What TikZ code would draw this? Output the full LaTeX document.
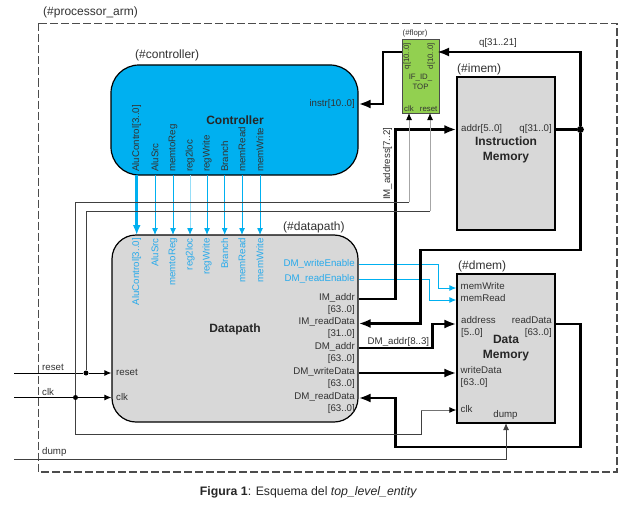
\documentclass[tikz,border=0pt]{standalone}
\usepackage{fontspec}
\setmainfont{Liberation Sans}
\usetikzlibrary{arrows.meta}
\definecolor{cblue}{RGB}{0,176,240}
\definecolor{lblue}{RGB}{150,222,248}
\definecolor{txtblue}{RGB}{40,170,235}
\definecolor{gfill}{RGB}{216,216,216}
\definecolor{ffgreen}{RGB}{146,208,80}
\definecolor{dtext}{RGB}{50,50,50}
\tikzset{
  block/.style={draw=black,line width=1.2pt,fill=gfill,inner sep=0pt,minimum width=#1},
  lab/.style={font=\fontsize{9.7}{12}\selectfont,text=dtext,inner sep=0pt,align=left},
  labr/.style={font=\fontsize{9.7}{12}\selectfont,text=dtext,inner sep=0pt,align=right},
  tag/.style={font=\fontsize{12}{14}\selectfont,text=dtext,inner sep=0pt,anchor=base west},
  title/.style={font=\bfseries\fontsize{12}{15}\selectfont,text=black!85,inner sep=0pt,align=center},
  smallf/.style={font=\fontsize{7.8}{10}\selectfont},
  vert/.style={font=\fontsize{9.7}{12}\selectfont,text=black!80,inner sep=0pt,rotate=90},
  vertb/.style={font=\fontsize{9.7}{12}\selectfont,text=txtblue,inner sep=0pt,rotate=90,anchor=east},
  bus/.style={line width=2.8pt,-{Latex[length=12pt,width=9pt]},line join=miter},
  busn/.style={line width=2.8pt,line join=miter},
  sig/.style={line width=1pt,draw=black!75,-{Latex[length=7pt,width=6pt]}},
  sign/.style={line width=1pt,draw=black!75},
  gsig/.style={line width=1pt,draw=black!35,-{Latex[length=7pt,width=6pt,black]}},
  bsig/.style={line width=1pt,draw=cblue,-{Latex[length=7pt,width=6pt]}},
  dot/.style={circle,fill=black,inner sep=0pt,minimum size=#1},
}
\begin{document}
\begin{tikzpicture}[x=1pt,y=-1pt]
\useasboundingbox (0,0) rectangle (637,511);
\fill[white] (0,0) rectangle (637,511);
% frame
\coordinate (fa) at (38.5,23.5);
\coordinate (fb) at (617,472);
\draw[line width=1.2pt,draw=black!70,dash pattern=on 8pt off 3pt] (fa) rectangle (fb);
\node[tag] (tproc) at (43,16) {(\#processor\_arm)};
% blocks
\node[draw=black,line width=1.2pt,fill=cblue,rounded corners=28pt,minimum width=247pt,minimum height=110pt,inner sep=0pt] (ctrl) at (234.5,120) {};
\node[draw=black,line width=1.2pt,fill=gfill,rounded corners=24pt,minimum width=246pt,minimum height=187pt,inner sep=0pt] (dp) at (235,328.5) {};
\node[draw=black!70,line width=1pt,fill=ffgreen,minimum width=37pt,minimum height=73pt,inner sep=0pt] (ff) at (420.5,76.5) {};
\node[block=98pt,minimum height=153pt] (im) at (506,153.5) {};
\node[block=98pt,minimum height=149pt] (dm) at (506,348.5) {};
% tags
\node[tag] (tc) at (135,59) {(\#controller)};
\node[tag] (td) at (283,230) {(\#datapath)};
\node[tag] (ti) at (457,72) {(\#imem)};
\node[tag] (tm) at (458,269) {(\#dmem)};
\node[tag,smallf] (tf) at (402.5,36) {(\#flopr)};
% titles
\node[title] (nc) at (235,120) {Controller};
\node[title] (nd) at (235,329) {Datapath};
\node[title] (ni) at (506,150) {Instruction\\Memory};
\node[title] (nm) at (506,348) {Data\\Memory};
\node[smallf,text=black!80,align=center,inner sep=0pt] (nf) at (420.5,82) {IF\_ID\_\\TOP};
% flopr ports
\node[vert,smallf,anchor=east] (fq) at (407,43) {q[10..0]};
\node[vert,smallf,anchor=east] (fd) at (431,43) {d[10..0]};
\node[lab,smallf,anchor=base west] (fc) at (404,111) {clk};
\node[lab,smallf,anchor=base east] (fr) at (437.5,111) {reset};
% controller ports
\node[labr,anchor=east] (cinstr) at (355,104) {instr[10..0]};
\foreach \n/\x/\t in {c1/136.7/AluControl[3..0],c2/155/AluSrc,c3/173/memtoReg,c4/190/reg2loc,c5/207/regWrite,c6/224.7/Branch,c7/242/memRead,c8/260/memWrite}{
  \node[vert,anchor=west] (\n) at (\x,172) {\t};
}
% datapath ports
\foreach \n/\x/\t in {d1/136.7/AluControl[3..0],d2/155/AluSrc,d3/173/memtoReg,d4/190/reg2loc,d5/207/regWrite,d6/224.7/Branch,d7/242/memRead,d8/260/memWrite}{
  \node[vertb] (\n) at (\x,238) {\t};
}
\node[labr,anchor=east,text=txtblue] (dwe) at (355,264) {DM\_writeEnable};
\node[labr,anchor=east,text=txtblue] (dre) at (355,279) {DM\_readEnable};
\node[labr,anchor=north east] (dia) at (355,293) {IM\_addr\\{[63..0]}};
\node[labr,anchor=north east] (dir) at (355,317) {IM\_readData\\{[31..0]}};
\node[labr,anchor=north east] (dda) at (355,342) {DM\_addr\\{[63..0]}};
\node[labr,anchor=north east] (ddw) at (355,367) {DM\_writeData\\{[63..0]}};
\node[labr,anchor=north east] (ddr) at (355,392) {DM\_readData\\{[63..0]}};
\node[lab,anchor=west] (drs) at (116,372.5) {reset};
\node[lab,anchor=west] (dck) at (116,397.5) {clk};
% imem ports
\node[lab,anchor=west] (ia) at (461,128.5) {addr[5..0]};
\node[labr,anchor=east] (iq) at (552,128.5) {q[31..0]};
% dmem ports
\node[lab,anchor=west] (mw) at (460.5,286.5) {memWrite};
\node[lab,anchor=west] (mr) at (460.5,298.5) {memRead};
\node[lab,anchor=north west] (mad) at (461,316) {address\\{[5..0]}};
\node[labr,anchor=north east] (mrd) at (552,316) {readData\\{[63..0]}};
\node[lab,anchor=north west] (mwd) at (460.5,366.5) {writeData\\{[63..0]}};
\node[lab,anchor=west] (mck) at (460.5,409.5) {clk};
\node[lab,anchor=base] (mdu) at (505.5,417.5) {dump};
% free wire labels
\node[lab,anchor=base] (lq) at (498,46) {q[31..21]};
\node[lab,anchor=base west,rotate=90] (lia) at (390,200) {IM\_address[7..2]};
\node[lab,anchor=base west] (lda) at (367.5,344.5) {DM\_addr[8..3]};
\node[lab,anchor=base west] (lrs) at (42,370) {reset};
\node[lab,anchor=base west] (lck) at (42,395) {clk};
\node[lab,anchor=base west] (ldu) at (42,454) {dump};
% free ends
\coordinate (inr) at (14,373);
\coordinate (inc) at (14,397.5);
\coordinate (ind) at (14,459);
\node[dot=5pt] (jr) at (86,373) {};
\node[dot=5pt] (jc) at (75.5,397.5) {};
\node[dot=7pt] (jq) at (580.4,129.5) {};
% control arrows
\draw[line width=2.5pt,draw=cblue,-{Latex[length=10pt,width=8pt]}] (136.7,175) -- (136.7,235);
\foreach \x in {155,173,207,224.7,242,260}{ \draw[bsig] (\x,175) -- (\x,235); }
\draw[line width=1pt,draw=lblue,-{Latex[length=7pt,width=6pt,cblue]}] (190,175) -- (190,235);
% blue data
\draw[bsig] (dp.east |- 0,264) -- (438,264) -- (438,288) -- (dm.west |- 0,288);
\draw[bsig] (dp.east |- 0,279) -- (429,279) -- (429,300) -- (dm.west |- 0,300);
% buses
\draw[busn] (im.east |- jq) -- (jq);
\draw[bus] (jq) |- (437,52);
\draw[bus] (jq) -- (580.4,250) -- (420.4,250) -- (420.4,323.5) -- (dp.east |- 0,323.5);
\draw[bus] (ff.west |- 0,52) -- (383,52) -- (383,104) -- (ctrl.east |- 0,104);
\draw[bus] (dp.east |- 0,299) -- (395.4,299) -- (395.4,129.5) -- (im.west |- jq);
\draw[bus] (dp.east |- 0,348) -- (432.4,348) -- (432.4,324) -- (dm.west |- 0,324);
\draw[bus] (dp.east |- 0,373) -- (dm.west |- 0,373);
\draw[bus] (dm.east |- 0,324) -- (580.4,324) -- (580.4,447) -- (395.4,447) -- (395.4,398) -- (dp.east |- 0,398);
% control signals
\draw[sign,draw=black] (inr) -- (jr);
\draw[sig,draw=black] (jr) -- (dp.west |- jr);
\draw[sign,draw=black] (inc) -- (jc);
\draw[sig,draw=black] (jc) -- (dp.west |- jc);
\draw[sign] (jr) -- (86,211) -- (430,211);
\draw[gsig] (430,211) -- (430,113);
\draw[sign] (jc) -- (75.5,202) -- (409,202);
\draw[gsig] (409,202) -- (409,113);
\draw[sign] (jc) -- (75.5,434.5) -- (421,434.5) -- (421,410);
\draw[line width=1pt,draw=black!55,-{Latex[length=7pt,width=6pt,black]}] (421,410) -- (dm.west |- 0,410);
\draw[sig] (ind) -- (506,459) -- (506,423);
% caption
\node[font=\fontsize{12.3}{14}\selectfont,text=black!85,inner sep=0pt] (cap) at (308.5,492.5) {\textbf{Figura 1}: Esquema del \textit{top\_level\_entity}};
\end{tikzpicture}
\end{document}
